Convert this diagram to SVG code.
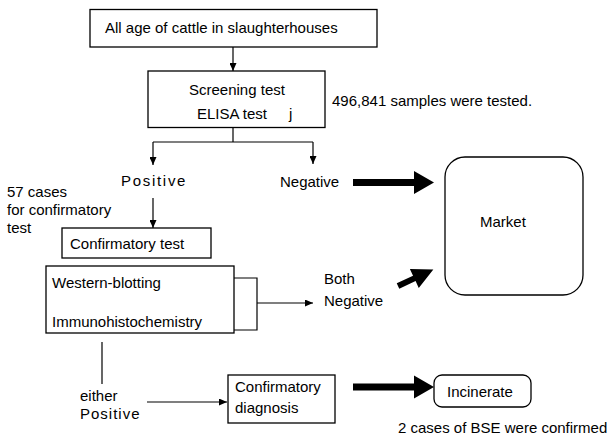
<svg xmlns="http://www.w3.org/2000/svg" width="611" height="441" viewBox="0 0 611 441">
<defs>
<style>
text{font-family:"Liberation Sans",Arial,sans-serif;font-size:15px;fill:#000}
.box{fill:#fff;stroke:#000;stroke-width:1.3}
.ln{fill:none;stroke:#000;stroke-width:1.2}
.arr{fill:none;stroke:#000;stroke-width:1.2;marker-end:url(#ah)}
.thick{fill:#000}
.sp{letter-spacing:1.7px}
</style>
<marker id="ah" markerWidth="8" markerHeight="7" refX="8" refY="3.5" orient="auto" markerUnits="userSpaceOnUse">
<path d="M0,0 L8,3.5 L0,7 z" fill="#000"/>
</marker>
<path id="bigarrow" d="M0,-3.5 L61,-3.5 L61,-11.5 L81,0 L61,11.5 L61,3.5 L0,3.5 Z"/>
</defs>

<g id="connectors">
<line class="arr" x1="233" y1="47" x2="233" y2="71"/>
<polyline class="ln" points="233,128 233,142"/>
<line class="ln" x1="153" y1="142" x2="313" y2="142"/>
<line class="arr" x1="153" y1="142" x2="153" y2="165"/>
<line class="arr" x1="313" y1="142" x2="313" y2="164"/>
<line class="arr" x1="153" y1="198" x2="153" y2="228"/>
<polyline class="ln" points="234,278 257,278 257,330 234,330"/>
<line class="arr" x1="257" y1="303" x2="313" y2="303"/>
<line class="ln" x1="102" y1="342" x2="102" y2="384"/>
<line class="arr" x1="147" y1="402" x2="227" y2="402"/>
<use href="#bigarrow" class="thick" transform="translate(353,182.5)"/>
<path class="thick" d="M0,-3 L18,-3 L18,-10.5 L39,0 L18,10.5 L18,3 L0,3 Z" transform="translate(398,286) rotate(-25)"/>
<use href="#bigarrow" class="thick" transform="translate(353,387)"/>
</g>

<g id="top">
<rect class="box" x="90" y="9.5" width="287" height="37.5"/>
<text x="105" y="33">All age of cattle in slaughterhouses</text>
</g>

<g id="screening">
<rect class="box" x="148" y="71" width="177" height="56.5"/>
<text x="189" y="95">Screening test</text>
<text x="197" y="119">ELISA test <tspan x="289">j</tspan></text>
</g>

<g id="samples">
<text x="332" y="106">496,841 samples were tested.</text>
</g>

<g id="positive">
<text class="sp" x="121" y="186">Positive</text>
</g>

<g id="negative">
<text x="280" y="187">Negative</text>
</g>

<g id="cases57">
<text x="7" y="197">57 cases</text>
<text x="7" y="215">for confirmatory</text>
<text x="7" y="233">test</text>
</g>

<g id="confirmatory-test">
<rect class="box" x="62" y="228" width="149" height="30"/>
<text x="70" y="249">Confirmatory test</text>
</g>

<g id="methods">
<rect class="box" x="46" y="266" width="188" height="67"/>
<text x="52" y="288">Western-blotting</text>
<text x="52" y="327">Immunohistochemistry</text>
</g>

<g id="both-negative">
<text x="324" y="284">Both</text>
<text x="324" y="306">Negative</text>
</g>

<g id="market">
<rect class="box" x="445" y="157" width="138" height="138" rx="20" ry="20"/>
<text x="480" y="227">Market</text>
</g>

<g id="either-positive">
<text x="80" y="401">either</text>
<text class="sp" x="80" y="419" style="letter-spacing:1px">Positive</text>
</g>

<g id="confirmatory-diagnosis">
<rect class="box" x="228" y="375" width="107" height="48"/>
<text x="235" y="392">Confirmatory</text>
<text x="235" y="413">diagnosis</text>
</g>

<g id="incinerate">
<rect class="box" x="434" y="375" width="97" height="32" rx="8" ry="8"/>
<text x="447" y="397">Incinerate</text>
</g>

<g id="bse">
<text x="398" y="433">2 cases of BSE were confirmed</text>
</g>
</svg>
